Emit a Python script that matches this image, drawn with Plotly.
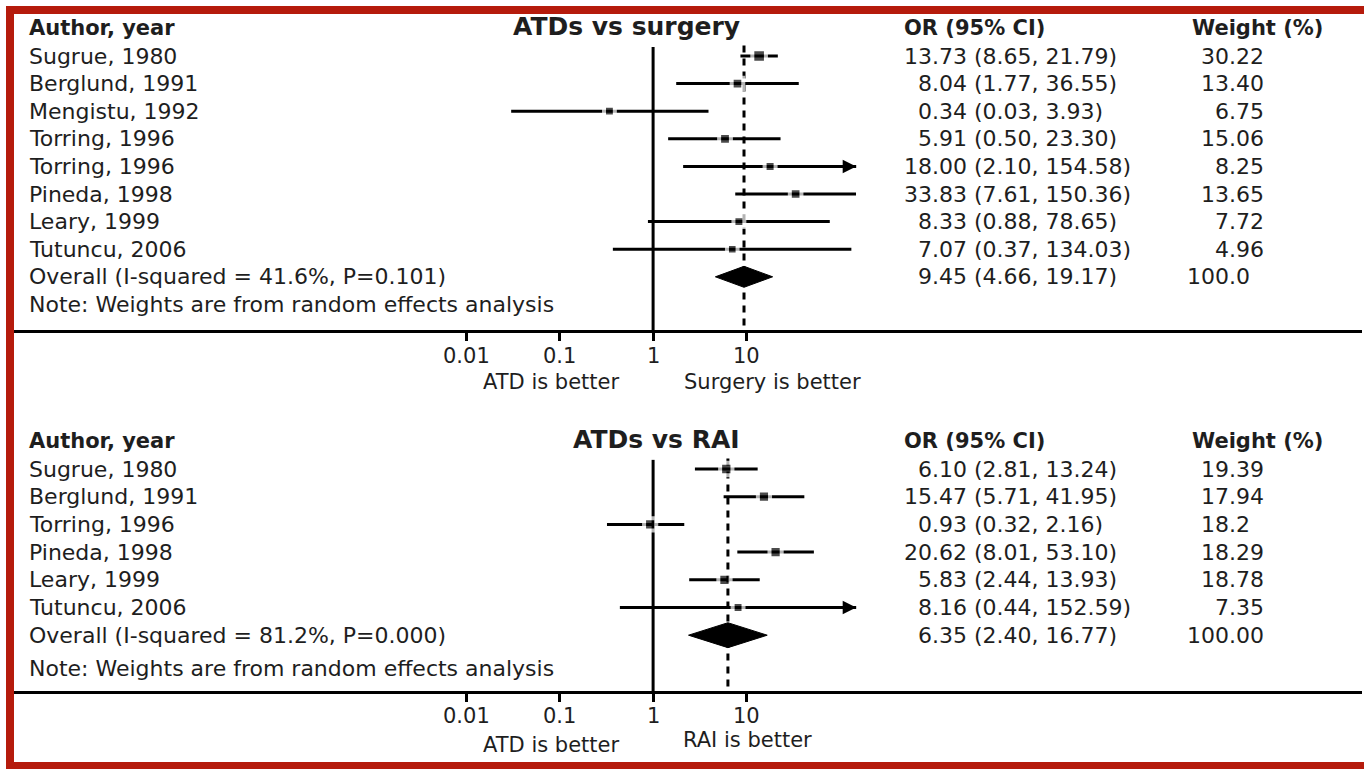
import math
import plotly.graph_objects as go

W, H = 1364, 769
FONT = "DejaVu Sans"
TXT = "#1e1e1e"

# ---------------- data: ATDs vs surgery ----------------
surg_studies = ["Sugrue, 1980", "Berglund, 1991", "Mengistu, 1992", "Torring, 1996",
                "Torring, 1996", "Pineda, 1998", "Leary, 1999", "Tutuncu, 2006"]
surg_or = [13.73, 8.04, 0.34, 5.91, 18.00, 33.83, 8.33, 7.07]
surg_lo = [8.65, 1.77, 0.03, 1.45, 2.10, 7.61, 0.88, 0.37]      # as drawn
surg_hi = [21.79, 36.55, 3.93, 23.30, 154.58, 150.36, 78.65, 134.03]
surg_weight = [30.22, 13.40, 6.75, 15.06, 8.25, 13.65, 7.72, 4.96]
surg_ci_text = ["13.73 (8.65, 21.79)", "8.04 (1.77, 36.55)", "0.34 (0.03, 3.93)",
                "5.91 (0.50, 23.30)", "18.00 (2.10, 154.58)", "33.83 (7.61, 150.36)",
                "8.33 (0.88, 78.65)", "7.07 (0.37, 134.03)"]
surg_weight_text = ["30.22", "13.40", "6.75", "15.06", "8.25", "13.65", "7.72", "4.96"]
surg_overall = [9.45, 4.66, 19.17]
surg_overall_label = "Overall (I-squared = 41.6%, P=0.101)"
surg_overall_ci_text = "9.45 (4.66, 19.17)"
surg_overall_weight_text = "100.0"

# ---------------- data: ATDs vs RAI ----------------
rai_studies = ["Sugrue, 1980", "Berglund, 1991", "Torring, 1996", "Pineda, 1998",
               "Leary, 1999", "Tutuncu, 2006"]
rai_or = [6.10, 15.47, 0.93, 20.62, 5.83, 8.16]
rai_lo = [2.81, 5.71, 0.32, 8.01, 2.44, 0.44]
rai_hi = [13.24, 41.95, 2.16, 53.10, 13.93, 152.59]
rai_weight = [19.39, 17.94, 18.2, 18.29, 18.78, 7.35]
rai_ci_text = ["6.10 (2.81, 13.24)", "15.47 (5.71, 41.95)", "0.93 (0.32, 2.16)",
               "20.62 (8.01, 53.10)", "5.83 (2.44, 13.93)", "8.16 (0.44, 152.59)"]
rai_weight_text = ["19.39", "17.94", "18.2", "18.29", "18.78", "7.35"]
rai_overall = [6.35, 2.40, 16.77]
rai_overall_label = "Overall (I-squared = 81.2%, P=0.000)"
rai_overall_ci_text = "6.35 (2.40, 16.77)"
rai_overall_weight_text = "100.00"

note_text = "Note: Weights are from random effects analysis"
tick_vals = [0.01, 0.1, 1, 10]
tick_text = ["0.01", "0.1", "1", "10"]
CLIP_MAX = 151  # display limit of the x scale; CIs beyond get an arrow

# ---------------- layout geometry (pixels) ----------------
X_LEFT, X_RIGHT = 14, 1362
X_AT_ONE, PX_PER_DECADE = 653.1, 93.2

panels = [
    dict(studies=surg_studies, est=surg_or, lo=surg_lo, hi=surg_hi, w=surg_weight,
         ci_text=surg_ci_text, w_text=surg_weight_text, overall=surg_overall,
         ov_label=surg_overall_label, ov_ci=surg_overall_ci_text, ov_w=surg_overall_weight_text,
         title="ATDs vs surgery", title_x=626, right_label="Surgery is better",
         right_x=772, left_label_y=382, right_label_y=382, tick_label_y=356,
         top_px=14, axis_px=330, row0_px=56, row_h=27.6, note_gap=1.0, dia_h=0.38,
         xa="x", ya="y"),
    dict(studies=rai_studies, est=rai_or, lo=rai_lo, hi=rai_hi, w=rai_weight,
         ci_text=rai_ci_text, w_text=rai_weight_text, overall=rai_overall,
         ov_label=rai_overall_label, ov_ci=rai_overall_ci_text, ov_w=rai_overall_weight_text,
         title="ATDs vs RAI", title_x=656, right_label="RAI is better",
         right_x=748, left_label_y=745, right_label_y=740, tick_label_y=716,
         top_px=400, axis_px=691, row0_px=469, row_h=27.7, note_gap=1.2, dia_h=0.45,
         xa="x2", ya="y2"),
]


def pad_est(s):
    est, rest = s.split(" (", 1)
    return est.rjust(5, "\u2007") + " (" + rest


def pad_w(s):
    dec = s.split(".")[1] if "." in s else ""
    return s + "\u2007" * max(0, 2 - len(dec))


fig = go.Figure()
annotations = []
layout_axes = {}

for i, p in enumerate(panels):
    n = len(p["studies"])
    rows = list(range(n))
    ov_row = n
    note_row = n + p["note_gap"]
    y_bottom = (p["axis_px"] - p["row0_px"]) / p["row_h"]
    y_top = (p["top_px"] - p["row0_px"]) / p["row_h"]
    line_top = -0.33
    xa, ya = p["xa"], p["ya"]
    ov, ov_lo, ov_hi = p["overall"]

    # reference line at OR = 1
    fig.add_trace(go.Scatter(x=[1, 1], y=[line_top, y_bottom], mode="lines",
                             line=dict(color="black", width=3), xaxis=xa, yaxis=ya,
                             hoverinfo="skip"))
    # dashed line at overall estimate
    fig.add_trace(go.Scatter(x=[ov, ov], y=[line_top - 0.05, y_bottom], mode="lines",
                             line=dict(color="black", width=3, dash="7px,6px"),
                             xaxis=xa, yaxis=ya, hoverinfo="skip"))
    # CI lines
    cx, cy = [], []
    for r, lo, hi in zip(rows, p["lo"], p["hi"]):
        cx += [lo, min(hi, CLIP_MAX), None]
        cy += [r, r, None]
        if hi > CLIP_MAX:
            annotations.append(dict(x=math.log10(CLIP_MAX), y=r, xref=xa, yref=ya,
                                    ax=-16, ay=0, text="", showarrow=True,
                                    arrowhead=2, arrowsize=0.9, arrowwidth=3,
                                    arrowcolor="black"))
    fig.add_trace(go.Scatter(x=cx, y=cy, mode="lines", line=dict(color="black", width=3),
                             xaxis=xa, yaxis=ya, hoverinfo="skip"))
    # overall diamond
    h = p["dia_h"]
    fig.add_trace(go.Scatter(x=[ov_lo, ov, ov_hi, ov, ov_lo],
                             y=[ov_row, ov_row - h, ov_row, ov_row + h, ov_row],
                             mode="lines", fill="toself", fillcolor="black",
                             line=dict(color="black", width=1), xaxis=xa, yaxis=ya,
                             hoverinfo="skip"))
    # point estimates (box size by weight, white halo)
    fig.add_trace(go.Scatter(x=p["est"], y=rows, mode="markers",
                             marker=dict(symbol="square", color="black",
                                         size=[10 + 0.12 * w for w in p["w"]],
                                         line=dict(color="white", width=4)),
                             xaxis=xa, yaxis=ya, hoverinfo="skip"))

    # axes
    xkey = "xaxis" if i == 0 else "xaxis2"
    ykey = "yaxis" if i == 0 else "yaxis2"
    layout_axes[xkey] = dict(
        type="log", domain=[X_LEFT / W, X_RIGHT / W],
        range=[(X_LEFT - X_AT_ONE) / PX_PER_DECADE, (X_RIGHT - X_AT_ONE) / PX_PER_DECADE],
        anchor=ya, showline=True, linecolor="black", linewidth=3, mirror=False,
        showgrid=False, zeroline=False, ticks="outside", ticklen=8, tickwidth=3,
        tickcolor="black", tickmode="array", tickvals=tick_vals, showticklabels=False,
        fixedrange=True)
    layout_axes[ykey] = dict(
        domain=[1 - p["axis_px"] / H, 1 - p["top_px"] / H], range=[y_bottom, y_top],
        anchor=xa, visible=False, showgrid=False, zeroline=False, fixedrange=True)

    # tick labels placed at the axis tick values
    for v, t in zip(tick_vals, tick_text):
        annotations.append(dict(x=math.log10(v), y=1 - p["tick_label_y"] / H, xref=xa,
                                yref="paper", text=t, showarrow=False, xanchor="center",
                                yanchor="middle", font=dict(family=FONT, size=21, color=TXT)))

    def txt(x_px, y, s, anchor="left", bold=False, size=22, yshift=0):
        annotations.append(dict(x=x_px / W, y=y, xref="paper", yref=ya,
                                text=(f"<b>{s}</b>" if bold else s),
                                showarrow=False, xanchor=anchor, yanchor="middle", yshift=yshift,
                                font=dict(family=FONT, size=size, color=TXT)))

    # headers
    txt(27, -1, "Author, year", bold=True, size=21)
    txt(p["title_x"], -1, p["title"], anchor="center", bold=True, size=25, yshift=2)
    txt(902, -1, "OR (95% CI)", bold=True, size=21)
    txt(1190, -1, "Weight (%)", bold=True, size=21)
    # rows
    for r, s, c, wt in zip(rows, p["studies"], p["ci_text"], p["w_text"]):
        txt(27, r, s)
        txt(902, r, pad_est(c))
        txt(1266, r, pad_w(wt), anchor="right")
    txt(27, ov_row, p["ov_label"])
    txt(902, ov_row, pad_est(p["ov_ci"]))
    txt(1266, ov_row, pad_w(p["ov_w"]), anchor="right")
    txt(27, note_row, note_text)

    # favour labels under axis
    for lbl, xp, yp in [("ATD is better", 551, p["left_label_y"]),
                        (p["right_label"], p["right_x"], p["right_label_y"])]:
        annotations.append(dict(x=xp / W, y=1 - yp / H, xref="paper", yref="paper", text=lbl,
                                showarrow=False, xanchor="center", yanchor="middle",
                                font=dict(family=FONT, size=21, color=TXT)))

# red frame
RED = "#B51B0C"
shapes = [
    dict(type="rect", xref="paper", yref="paper", x0=6 / W, x1=14 / W, y0=0, y1=1 - 6 / H,
         fillcolor=RED, line=dict(width=0), layer="above"),
    dict(type="rect", xref="paper", yref="paper", x0=6 / W, x1=1, y0=1 - 14 / H, y1=1 - 6 / H,
         fillcolor=RED, line=dict(width=0), layer="above"),
    dict(type="rect", xref="paper", yref="paper", x0=6 / W, x1=1, y0=0, y1=1 - 762 / H,
         fillcolor=RED, line=dict(width=0), layer="above"),
]

fig.update_layout(
    width=W, height=H, margin=dict(l=0, r=0, t=0, b=0, pad=0),
    paper_bgcolor="white", plot_bgcolor="rgba(0,0,0,0)", showlegend=False,
    annotations=annotations, shapes=shapes, **layout_axes)

fig.write_html("out.html", config={"displayModeBar": False},
               post_script="document.body.style.margin='0px';document.body.style.padding='0px';"
                           "document.body.style.overflow='hidden';")
